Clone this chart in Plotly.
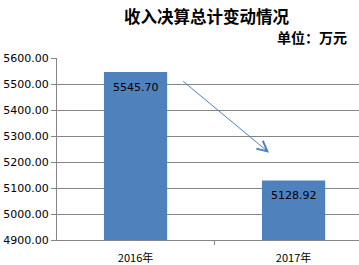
import plotly.graph_objects as go

categories = ["2016年", "2017年"]
values = [5545.70, 5128.92]
value_labels = ["5545.70", "5128.92"]
y_ticks = [4900, 5000, 5100, 5200, 5300, 5400, 5500, 5600]
y_tick_labels = [f"{v:.2f}" for v in y_ticks]

bar_color = "#4F81BD"
axis_color = "#868686"
num_font = "DejaVu Sans, Verdana, sans-serif"
cjk_font = "Noto Sans CJK SC, sans-serif"

W, H = 359, 265
ML, MR, MT, MB = 57, 0, 58, 25
PW, PH = W - ML - MR, H - MT - MB

def px_x(px):
    return (px - ML) / PW

def px_y(py):
    return (H - MB - py) / PH

fig = go.Figure()
fig.add_trace(go.Bar(
    x=[0, 1], y=values,
    width=0.4,
    marker=dict(color=bar_color, line=dict(width=0)),
    hoverinfo="skip",
))

# value labels just inside the top of each bar
for i, (v, lab) in enumerate(zip(values, value_labels)):
    fig.add_annotation(
        x=i, y=v, xref="x", yref="y", text=lab, showarrow=False,
        xanchor="center", yanchor="top", yshift=-7,
        font=dict(family=num_font, size=11, color="#000000"),
    )

# arrow from first bar toward second bar
fig.add_annotation(
    x=0.845, y=5236, ax=0.292, ay=5515,
    xref="x", yref="y", axref="x", ayref="y",
    showarrow=True, arrowhead=5, arrowsize=2, arrowwidth=1,
    arrowcolor=bar_color, text="",
)
fig.add_annotation(
    text="<b>收入决算总计变动情况</b>",
    x=px_x(207), y=px_y(16),
    xref="paper", yref="paper", showarrow=False,
    xanchor="center", yanchor="middle",
    font=dict(family=cjk_font, size=16.5, color="#000000"),
)
fig.add_annotation(
    text="<b>单位：万元</b>",
    x=px_x(349), y=px_y(37),
    xref="paper", yref="paper", showarrow=False,
    xanchor="right", yanchor="middle",
    font=dict(family=cjk_font, size=14, color="#000000"),
)

fig.update_layout(
    width=W, height=H,
    margin=dict(l=ML, r=MR, t=MT, b=MB),
    paper_bgcolor="white", plot_bgcolor="white",
    showlegend=False,
)

fig.update_xaxes(
    tickmode="array", tickvals=[0, 1], ticktext=categories,
    range=[-0.497, 1.414],
    showgrid=False, zeroline=False,
    showline=True, linecolor=axis_color, linewidth=1,
    ticks="", ticklabelstandoff=8,
    tickfont=dict(family=cjk_font, size=11, color="#000000"),
)
fig.update_yaxes(
    range=[4900, 5600], tickvals=y_ticks, ticktext=y_tick_labels,
    showgrid=True, gridcolor=axis_color, gridwidth=1,
    zeroline=False,
    showline=True, linecolor=axis_color, linewidth=1,
    ticks="outside", ticklen=5, tickcolor=axis_color,
    tickfont=dict(family=num_font, size=11, color="#000000"),
)

# boundary tick between categories
fig.add_shape(type="line", xref="x", yref="paper",
              x0=0.5, x1=0.5, y0=0, y1=-5 / PH,
              line=dict(color=axis_color, width=1))

fig.write_html("out.html")
